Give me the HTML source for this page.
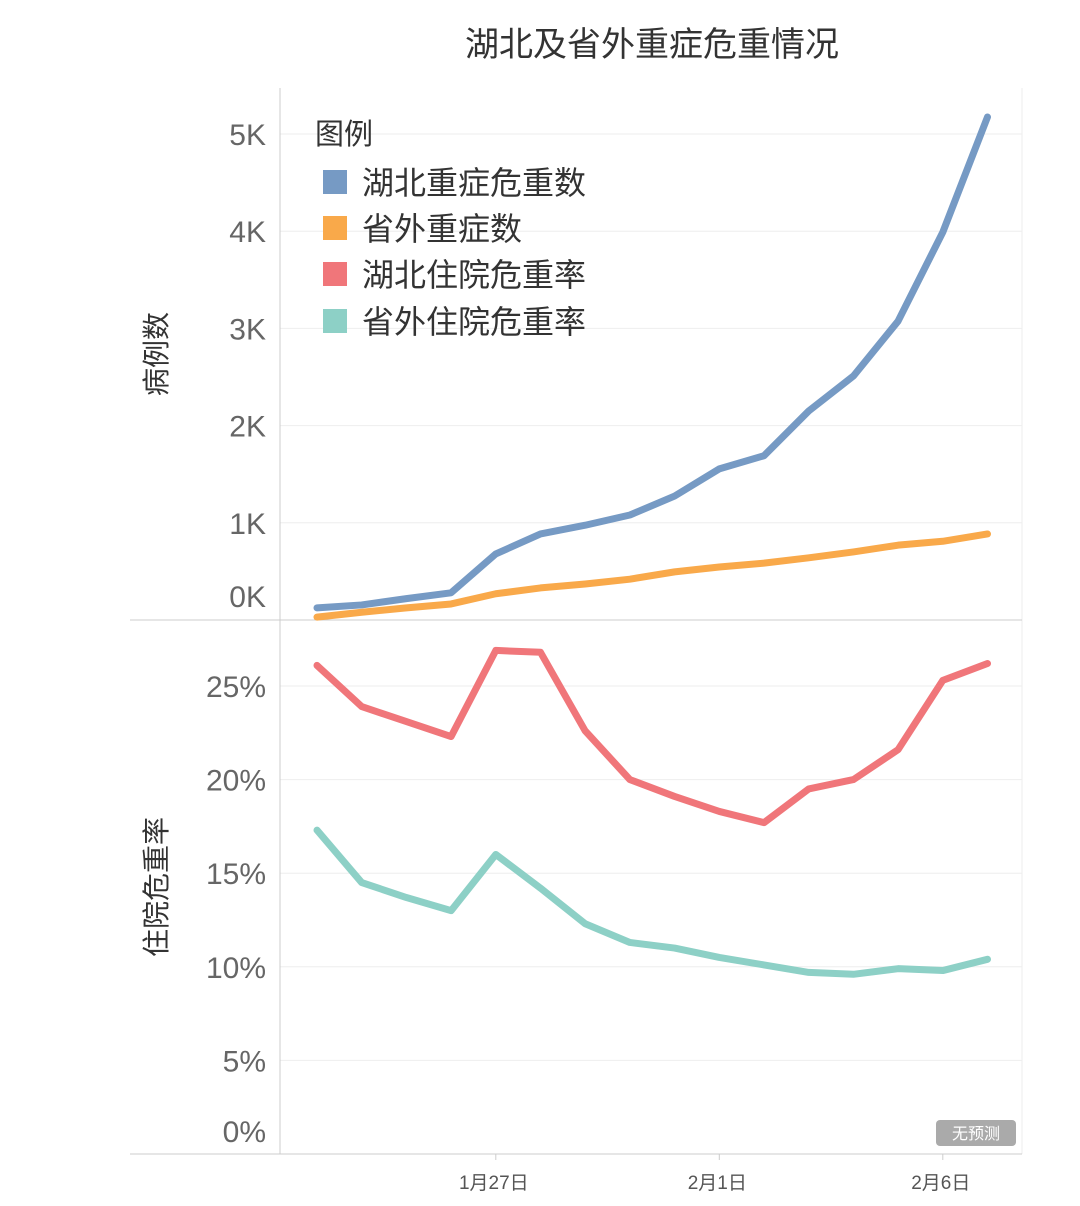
<!DOCTYPE html>
<html><head><meta charset="utf-8">
<style>
html,body{margin:0;padding:0;background:#fff;}
svg{display:block;font-family:"Liberation Sans","Noto Sans CJK SC",sans-serif;}
</style></head>
<body>
<svg id="chart" width="1080" height="1206" viewBox="0 0 1080 1206">
<text x="652" y="56" font-size="34" text-anchor="middle" fill="#333">湖北及省外重症危重情况</text>
<g id="grid"></g>
<g id="axes"></g>
<g id="lines"></g>
<g>
<text x="315" y="144" font-size="29" fill="#333">图例</text>
<rect x="323" y="170" width="24" height="24" fill="#769ac4"/>
<text x="362" y="194" font-size="32" fill="#333">湖北重症危重数</text>
<rect x="323" y="216" width="24" height="24" fill="#f9a94a"/>
<text x="362" y="240" font-size="32" fill="#333">省外重症数</text>
<rect x="323" y="262" width="24" height="24" fill="#f0767a"/>
<text x="362" y="286" font-size="32" fill="#333">湖北住院危重率</text>
<rect x="323" y="309" width="24" height="24" fill="#8dd0c6"/>
<text x="362" y="333" font-size="32" fill="#333">省外住院危重率</text>
</g>
<text transform="translate(166,354) rotate(-90)" font-size="28" text-anchor="middle" fill="#333">病例数</text>
<text transform="translate(166,887) rotate(-90)" font-size="28" text-anchor="middle" fill="#333">住院危重率</text>
<g>
<rect x="936" y="1120" width="80" height="26" rx="4" fill="#aaa"/>
<text x="976" y="1139" font-size="16" fill="#fff" text-anchor="middle">无预测</text>
</g>
</svg>
<script>
const days = [0,1,2,3,4,5,6,7,8,9,10,11,12,13,14,15]; // Jan 23 .. Feb 7
const hubeiSevere = [125,155,220,280,680,885,975,1080,1275,1555,1690,2150,2510,3075,3990,5175];
const outsideSevere = [30,80,125,165,270,330,370,420,495,545,585,640,700,770,810,885];
const hubeiRate = [26.1,23.9,23.1,22.3,26.9,26.8,22.6,20.0,19.1,18.3,17.7,19.5,20.0,21.6,25.3,26.2];
const outsideRate = [17.3,14.5,13.7,13.0,16.0,14.2,12.3,11.3,11.0,10.5,10.1,9.7,9.6,9.9,9.8,10.4];
const countTicks = [0,1000,2000,3000,4000,5000];
const countTickLabels = ["0K","1K","2K","3K","4K","5K"];
const rateTicks = [0,5,10,15,20,25];
const rateTickLabels = ["0%","5%","10%","15%","20%","25%"];
const dateTicks = [4,9,14];
const dateTickLabels = ["1月27日","2月1日","2月6日"];

const NS="http://www.w3.org/2000/svg";
const x = d => 317 + d*44.7;
const yTop = v => 620 - v*0.0972;
const yBot = v => 1154 - v*18.72;
function mk(tag, attrs, parent){const e=document.createElementNS(NS,tag);for(const k in attrs)e.setAttribute(k,attrs[k]);parent.appendChild(e);return e;}
const grid=document.getElementById('grid'), axes=document.getElementById('axes'), lines=document.getElementById('lines');

countTicks.forEach((t,i)=>{
  if(t>0){const g=mk('line',{x1:280,x2:1022,y1:yTop(t),y2:yTop(t),stroke:'#eee','stroke-width':1},grid);
  
  }
  const ly = t===0 ? 607 : yTop(t)+11;
  const l=mk('text',{x:266,y:ly,'font-size':30,'text-anchor':'end',fill:'#666'},axes);
  l.textContent=countTickLabels[i];
  
  
});
rateTicks.forEach((t,i)=>{
  if(t>0){const g=mk('line',{x1:280,x2:1022,y1:yBot(t),y2:yBot(t),stroke:'#eee','stroke-width':1},grid);
  
  }
  const ly = t===0 ? 1142 : yBot(t)+11;
  const l=mk('text',{x:266,y:ly,'font-size':30,'text-anchor':'end',fill:'#666'},axes);
  l.textContent=rateTickLabels[i];
  
  
});
dateTicks.forEach((d,i)=>{
  const l=mk('text',{x:x(d)-2,y:1189,'font-size':19,'text-anchor':'middle',fill:'#555'},axes);
  l.textContent=dateTickLabels[i];
  
  
  const tk=mk('line',{x1:x(d),x2:x(d),y1:1154,y2:1160,stroke:'#ccc'},axes);
  
  
});
[['280','88','280','1154','y-axis-line'],['1022','88','1022','1154','right-border'],['130','620','1022','620','panel-separator'],['130','1154','1022','1154','x-axis-line']].forEach(a=>{
  const l=mk('line',{x1:a[0],y1:a[1],x2:a[2],y2:a[3],stroke:a[4]==='right-border'?'#eee':'#ccc','stroke-width':1},axes);
  
  
});
function series(vals, yf, color, name){
  const p=mk('polyline',{points:vals.map((v,i)=>x(days[i])+','+yf(v)).join(' '),fill:'none',stroke:color,'stroke-width':7,'stroke-linejoin':'round','stroke-linecap':'round'},lines);
  
  
}
series(outsideSevere,yTop,'#f9a94a','line-outside-severe');
series(hubeiSevere,yTop,'#769ac4','line-hubei-severe');
series(outsideRate,yBot,'#8dd0c6','line-outside-rate');
series(hubeiRate,yBot,'#f0767a','line-hubei-rate');
</script>
</body></html>
